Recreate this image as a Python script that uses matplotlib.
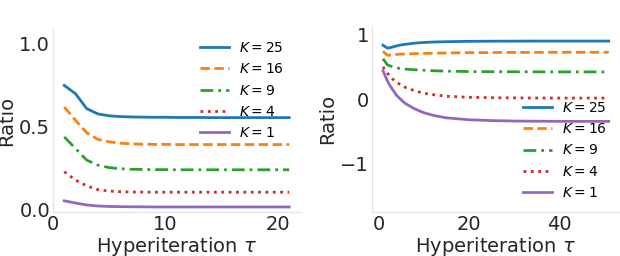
import matplotlib
matplotlib.use("Agg")
import matplotlib.pyplot as plt

# Left panel data (tau = 1..21)
tau_left = list(range(1, 22))
left_k25 = [0.75, 0.70, 0.61, 0.578, 0.567, 0.562, 0.560, 0.559, 0.558, 0.558, 0.557,
            0.557, 0.557, 0.556, 0.556, 0.556, 0.556, 0.556, 0.556, 0.556, 0.556]
left_k16 = [0.62, 0.54, 0.465, 0.425, 0.41, 0.402, 0.398, 0.396, 0.395, 0.395, 0.394,
            0.394, 0.394, 0.394, 0.394, 0.394, 0.394, 0.394, 0.394, 0.394, 0.394]
left_k9 = [0.44, 0.37, 0.30, 0.27, 0.255, 0.248, 0.245, 0.244, 0.243, 0.243, 0.242,
           0.242, 0.242, 0.242, 0.242, 0.242, 0.242, 0.242, 0.242, 0.242, 0.242]
left_k4 = [0.23, 0.18, 0.145, 0.122, 0.114, 0.11, 0.108, 0.108, 0.107, 0.107, 0.107,
           0.107, 0.107, 0.107, 0.107, 0.107, 0.107, 0.107, 0.107, 0.107, 0.107]
left_k1 = [0.055, 0.042, 0.030, 0.024, 0.021, 0.020, 0.019, 0.019, 0.018, 0.018, 0.018,
           0.018, 0.018, 0.018, 0.018, 0.018, 0.018, 0.018, 0.018, 0.018, 0.018]

# Right panel data (tau = 1..51, read at selected points)
tau_right = [1, 2, 3, 4, 5, 6, 8, 10, 12, 15, 20, 25, 30, 35, 40, 45, 51]
right_k25 = [0.835, 0.79, 0.805, 0.825, 0.84, 0.85, 0.868, 0.878, 0.885, 0.89, 0.896, 0.898, 0.899, 0.9, 0.9, 0.9, 0.9]
right_k16 = [0.74, 0.68, 0.685, 0.692, 0.698, 0.70, 0.705, 0.709, 0.712, 0.715, 0.72, 0.722, 0.724, 0.725, 0.726, 0.726, 0.726]
right_k9 = [0.625, 0.53, 0.505, 0.485, 0.472, 0.465, 0.455, 0.448, 0.44, 0.434, 0.427, 0.425, 0.424, 0.423, 0.422, 0.422, 0.422]
right_k4 = [0.50, 0.40, 0.32, 0.26, 0.22, 0.18, 0.13, 0.09, 0.07, 0.045, 0.028, 0.022, 0.019, 0.017, 0.016, 0.016, 0.016]
right_k1 = [0.44, 0.28, 0.16, 0.06, -0.01, -0.07, -0.15, -0.21, -0.25, -0.29, -0.32, -0.333, -0.34, -0.343, -0.345, -0.345, -0.345]

labels = ["$K = 25$", "$K = 16$", "$K = 9$", "$K = 4$", "$K = 1$"]
colors = ["#1f77b4", "#ff7f0e", "#2ca02c", "#d62728", "#9467bd"]
styles = ["-", (0, (3.4, 1.6)), (0, (4.6, 1.8, 1, 1.8)), (0, (1, 1.65)), "-"]

fig = plt.figure(figsize=(6.2, 2.56), dpi=100)
ax1 = fig.add_axes([0.0855, 0.172, 0.399, 0.715])
ax2 = fig.add_axes([0.5995, 0.172, 0.4005, 0.723])

for ax in (ax1, ax2):
    for s in ("top", "right"):
        ax.spines[s].set_visible(False)
    for s in ("left", "bottom"):
        ax.spines[s].set_color("#e6e6e6")
        ax.spines[s].set_linewidth(1.0)
    ax.tick_params(length=0, labelsize=14, colors="#262626", pad=2)
    ax.set_xlabel(r"Hyperiteration $\tau$", fontsize=14, color="#262626", labelpad=1)
    ax.set_ylabel("Ratio", fontsize=14, color="#262626", labelpad=2)

left_series = [left_k25, left_k16, left_k9, left_k4, left_k1]
right_series = [right_k25, right_k16, right_k9, right_k4, right_k1]

for ys, lab, c, ls in zip(left_series, labels, colors, styles):
    ax1.plot(tau_left, ys, color=c, linestyle=ls, linewidth=2.0, label=lab)
for ys, lab, c, ls in zip(right_series, labels, colors, styles):
    ax2.plot(tau_right, ys, color=c, linestyle=ls, linewidth=2.0, label=lab)

ax1.set_xlim(0, 22)
ax1.set_ylim(-0.012, 1.09)
ax1.set_xticks([0, 10, 20])
ax1.set_yticks([0.0, 0.5, 1.0])
ax1.set_yticklabels(["0.0", "0.5", "1.0"])

ax2.set_xlim(-1.5, 53.5)
ax2.set_ylim(-1.75, 1.12)
ax2.set_xticks([0, 20, 40])
ax2.set_yticks([-1, 0, 1])
ax2.set_yticklabels(["\u22121", "0", "1"])

leg_kw = dict(frameon=False, fontsize=10, handlelength=2.1, handletextpad=0.7,
              labelspacing=0.52, borderaxespad=0.0)
ax1.legend(loc="upper right", bbox_to_anchor=(0.954, 0.964), **leg_kw)
ax2.legend(loc="lower right", bbox_to_anchor=(0.97, 0.035), **leg_kw)

fig.savefig("out.png", dpi=100)
